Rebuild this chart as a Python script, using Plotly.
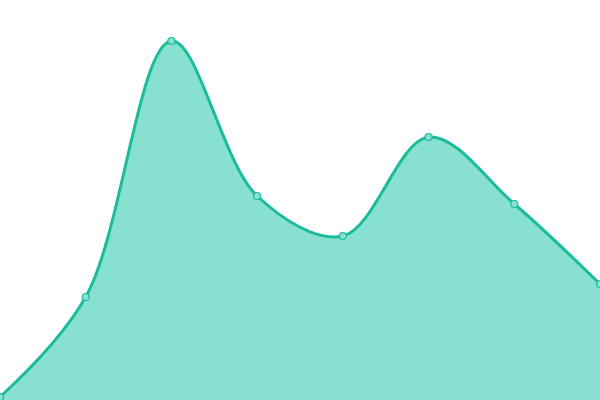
import plotly.graph_objects as go

x_values = [0, 1, 2, 3, 4, 5, 6, 7]
y_values = [3, 103, 359, 204, 164, 263, 196, 116]

fig = go.Figure()
fig.add_trace(go.Scatter(
    x=x_values, y=y_values,
    mode="lines+markers",
    line=dict(shape="spline", smoothing=1.0, color="#1abc9c", width=3),
    fill="tozeroy",
    fillcolor="#88e0d0",
    marker=dict(size=7, color="#88e0d0", line=dict(color="#1abc9c", width=1.2)),
    hoverinfo="skip",
))
fig.update_layout(
    width=600, height=400,
    margin=dict(l=0, r=0, t=0, b=0),
    paper_bgcolor="white", plot_bgcolor="white",
    showlegend=False,
    xaxis=dict(visible=False, range=[0, 7]),
    yaxis=dict(visible=False, range=[0, 400]),
)
fig.write_html(
    "out.html",
    config={"displayModeBar": False},
    post_script="document.body.style.margin='0';document.body.style.overflow='hidden';",
)
